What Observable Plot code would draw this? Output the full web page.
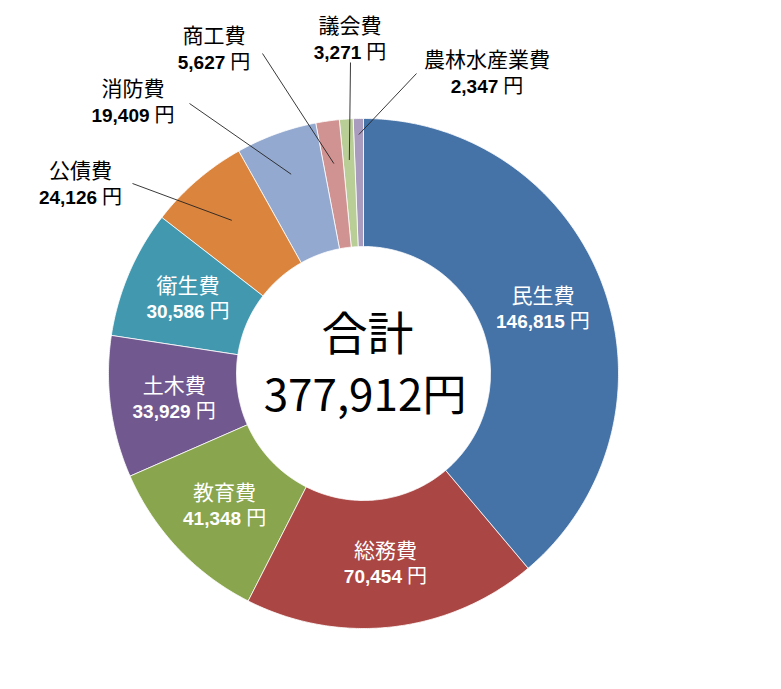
<!DOCTYPE html>
<html><head><meta charset="utf-8">
<script src="https://cdn.jsdelivr.net/npm/d3@7"></script>
<script src="https://cdn.jsdelivr.net/npm/@observablehq/plot@0.6"></script>
<style>html,body{margin:0;padding:0;background:#fff}svg{display:block}</style>
</head><body><div id="chart"></div>
<script>
// ---- data ----
const categories = ["民生費","総務費","教育費","土木費","衛生費","公債費","消防費","商工費","議会費","農林水産業費"];
const values = [146815,70454,41348,33929,30586,24126,19409,5627,3271,2347];
const colors = ["#4572A7","#AA4643","#89A54E","#71588F","#4198AF","#DB843D","#93A9CF","#D19392","#B9CD96","#A99BBD"];
const totalTitle = "合計";
const unit = "円";

// ---- layout (chart units = pixels, origin at donut centre, y up) ----
const W = 781, H = 689, CX = 363, CY = 373;
const R_OUT = 255, R_IN = 127;
const insideCats = ["民生費","総務費","教育費","土木費","衛生費"];
// outside labels: label centre x, name baseline y, leader start, leader end radius
const outsideLayout = [
  {category:"公債費", x:-283, y:196, lx:-231, ly:190, r:202},
  {category:"消防費", x:-230.5, y:278, lx:-174, ly:270, r:212},
  {category:"商工費", x:-149.5, y:331, lx:-101, ly:320, r:212},
  {category:"議会費", x:-13.5, y:341, lx:-13, ly:311, r:214},
  {category:"農林水産業費", x:123.5, y:307, lx:53, ly:300, r:239}
];

const total = d3.sum(values);
const fmt = d3.format(",");
let cum = 0;
const slices = categories.map((c, i) => {
  const a0 = cum / total * 2 * Math.PI;
  cum += values[i];
  const a1 = cum / total * 2 * Math.PI;
  return {category: c, value: values[i], a0, a1, mid: (a0 + a1) / 2};
});
const byCat = new Map(slices.map(s => [s.category, s]));

// polygon points for each slice
const pts = [];
for (const s of slices) {
  const n = Math.max(2, Math.ceil((s.a1 - s.a0) / (Math.PI / 360)));
  for (let k = 0; k <= n; k++) {
    const a = s.a0 + (s.a1 - s.a0) * k / n;
    pts.push({category: s.category, x: R_OUT * Math.sin(a), y: R_OUT * Math.cos(a)});
  }
  for (let k = n; k >= 0; k--) {
    const a = s.a0 + (s.a1 - s.a0) * k / n;
    pts.push({category: s.category, x: R_IN * Math.sin(a), y: R_IN * Math.cos(a)});
  }
}

// text measurement
const ctx = document.createElement("canvas").getContext("2d");
const NUM_FONT = "bold 19px 'Liberation Sans'";
const YEN_FONT = "20px 'Noto Sans CJK JP'";
function measure(t, f) { ctx.font = f; return ctx.measureText(t).width; }
const GAP = 5;

// label records
const labels = [];
const RM = (R_OUT + R_IN) / 2;
for (const c of insideCats) {
  const s = byCat.get(c);
  const cx = RM * Math.sin(s.mid), cy = RM * Math.cos(s.mid);
  labels.push({category: c, x: cx, y: cy + 5, vy: cy - 20, color: "white", value: s.value});
}
for (const o of outsideLayout) {
  labels.push({category: o.category, x: o.x, y: o.y, vy: o.y - 26.5, color: "black", value: byCat.get(o.category).value});
}
for (const l of labels) {
  const ns = fmt(l.value);
  const wn = measure(ns, NUM_FONT), wy = measure(unit, YEN_FONT);
  const T = wn + GAP + wy;
  l.numText = ns;
  l.numX = l.x - T / 2 + wn;
  l.yenX = l.numX + GAP;
}
const leaders = outsideLayout.map(o => {
  const s = byCat.get(o.category);
  return {x1: o.lx, y1: o.ly, x2: o.r * Math.sin(s.mid), y2: o.r * Math.cos(s.mid)};
});

const CJK = "'Noto Sans CJK JP', sans-serif";
const plot = Plot.plot({
  width: W, height: H, margin: 0,
  x: {domain: [-CX, W - CX], axis: null},
  y: {domain: [-(H - CY), CY], axis: null},
  color: {domain: categories, range: colors},
  style: {background: "white"},
  marks: [
    Plot.line(pts, {x: "x", y: "y", z: "category", fill: "category", stroke: "white", strokeWidth: 0.8, curve: "linear-closed"}),
    Plot.link(leaders, {x1: "x1", y1: "y1", x2: "x2", y2: "y2", stroke: "#222", strokeWidth: 0.9}),
    Plot.text(labels, {x: "x", y: "y", text: "category", fill: "color", fontFamily: CJK, fontSize: 21, lineAnchor: "bottom", textAnchor: "middle"}),
    Plot.text(labels, {x: "numX", y: "vy", text: "numText", fill: "color", fontFamily: "'Liberation Sans', sans-serif", fontWeight: "bold", fontSize: 19, lineAnchor: "bottom", textAnchor: "end"}),
    Plot.text(labels, {x: "yenX", y: "vy", text: () => unit, fill: "color", fontFamily: CJK, fontSize: 20, lineAnchor: "bottom", textAnchor: "start"}),
    Plot.text([{t: totalTitle}], {x: () => 4, y: () => 24, text: "t", fill: "black", fontFamily: CJK, fontSize: 46, lineAnchor: "bottom"}),
    Plot.text([{t: fmt(total) + unit}], {x: () => 1.5, y: () => -37, text: "t", fill: "black", fontFamily: CJK, fontSize: 44, lineAnchor: "bottom"})
  ]
});
document.getElementById("chart").appendChild(plot);
</script>
</body></html>
